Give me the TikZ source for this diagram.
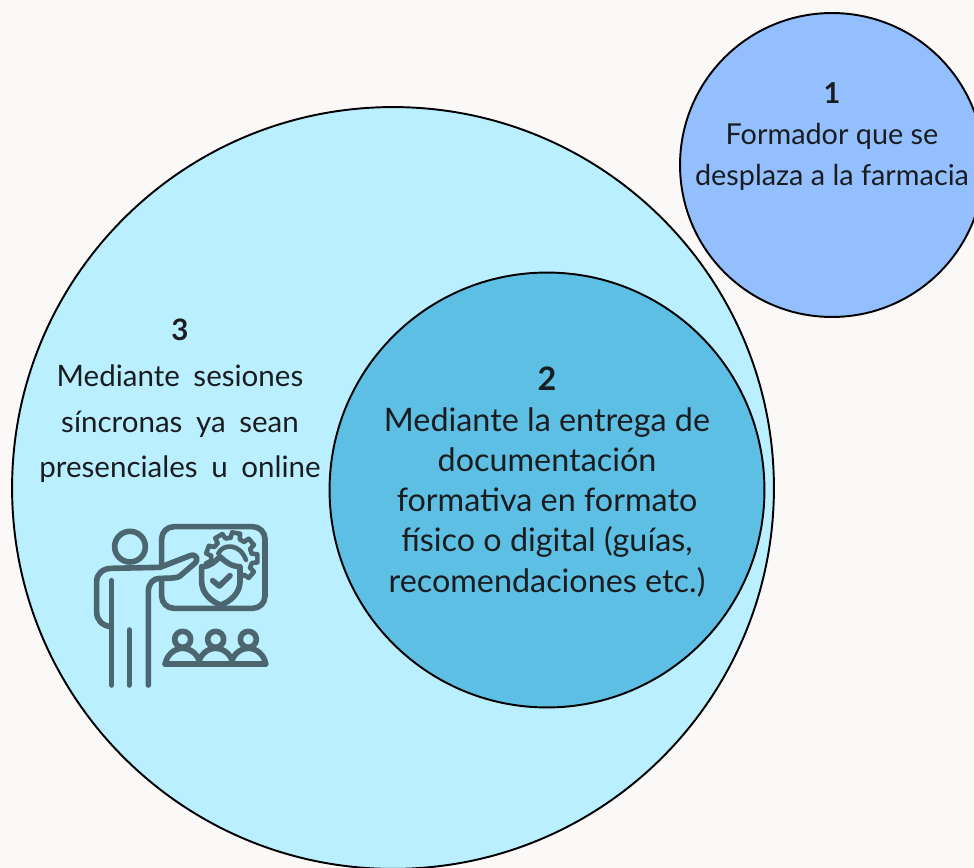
\documentclass[tikz,border=0pt]{standalone}
\usepackage{fontspec}
\setmainfont{Lato}
\newfontfamily\widefont[WordSpace=1.8]{Lato}
\usepackage{xcolor}
\usetikzlibrary{calc}
\definecolor{bg}{HTML}{FBF9F7}
\definecolor{pale}{HTML}{BAEFFF}
\definecolor{mid}{HTML}{5DBFE3}
\definecolor{sky}{HTML}{93BFFF}
\definecolor{ink}{HTML}{1A1D20}
\definecolor{icon}{HTML}{4C6670}
\tikzset{
  disc/.style={circle, draw=black, line width=1.1pt, inner sep=0pt},
  labs/.style={text=ink, align=center, font=\fontsize{16.4}{23.4}\selectfont},
  lab/.style={text=ink, align=center, font=\fontsize{18.4}{22.9}\selectfont},
  labw/.style={text=ink, align=center, font=\widefont\fontsize{16.8}{26}\selectfont},
  ico/.style={draw=icon, line width=3.2pt, line cap=round, line join=round},
  icot/.style={draw=icon, line width=2.6pt, line cap=round, line join=round},
}
\begin{document}
\begin{tikzpicture}[x=0.02cm,y=-0.02cm]
  \clip (0,0) rectangle (974,868);
  \fill[bg] (0,0) rectangle (974,868);
  % circles
  \node[disc, fill=pale, minimum size=15.24cm] (outer) at (393,488) {};
  \node[disc, fill=mid, minimum size=8.7cm] (inner) at (547,490) {};
  \node[disc, fill=sky, minimum size=6.08cm] (far) at (832,165) {};
  % texts
  \node[labs, anchor=north] (txtone) at (832,76) {\textbf{1}\\Formador que se\\desplaza a la farmacia};
  \node[lab, anchor=north] (txttwo) at (547,361) {\textbf{2}\\Mediante la entrega de\\documentación\\formativa en formato\\físico o digital (guías,\\recomendaciones etc.)};
  \node[labw, anchor=north] (txtthree) at (180,313) {\textbf{3}\\Mediante sesiones\\síncronas ya sean\\presenciales u online};
  % icon, in units of a third of a pixel
  \begin{scope}[shift={(80,510)},scale=1/3]
    \draw[ico, rounded corners=7pt] (245,165) -- (245,50) -- (555,50) -- (555,295) -- (245,295) -- (245,212);
    \draw[ico] (150,110) circle (46);
    \draw[ico] (95,525) -- (95,212);
    \draw[ico] (148,360) -- (148,525);
    \draw[ico] (90,350) .. controls (65,345) and (50,330) .. (50,305) -- (50,215)
      .. controls (50,190) and (70,175) .. (95,175) -- (240,172) -- (330,137)
      .. controls (350,130) and (358,150) .. (342,162) -- (300,198)
      .. controls (295,203) and (280,205) .. (240,205)
      .. controls (220,205) and (205,220) .. (205,245) -- (205,525);
    % gear
    \foreach \a in {0,40,...,320}{
      \draw[icot] ($(455,145)+(\a-13:62)$) -- ($(455,145)+(\a-9:78)$) -- ($(455,145)+(\a+9:78)$) -- ($(455,145)+(\a+13:62)$) -- ($(455,145)+(\a+27:62)$);
    }
    \draw[icot] (415,130) .. controls (430,100) and (480,100) .. (498,150);
    \path[fill=pale] (365,170) .. controls (390,170) and (405,155) .. (420,140)
      .. controls (435,155) and (455,170) .. (480,170) -- (480,215)
      .. controls (480,250) and (450,275) .. (422,285)
      .. controls (395,275) and (365,250) .. (365,215) -- cycle;
    \draw[ico] (365,170) .. controls (390,170) and (405,155) .. (420,140)
      .. controls (435,155) and (455,170) .. (480,170) -- (480,215)
      .. controls (480,250) and (450,275) .. (422,285)
      .. controls (395,275) and (365,250) .. (365,215) -- cycle;
    \draw[ico] (398,212) -- (418,228) -- (450,197);
    % audience
    \foreach \xc in {308,407,505}{
      \draw[ico] (\xc,388) circle (24);
      \draw[ico] (\xc-52,462) .. controls (\xc-48,435) and (\xc-25,415) .. (\xc,415)
        .. controls (\xc+25,415) and (\xc+48,435) .. (\xc+52,462);
    }
    \draw[ico] (255,462) -- (557,462);
  \end{scope}
\end{tikzpicture}
\end{document}
